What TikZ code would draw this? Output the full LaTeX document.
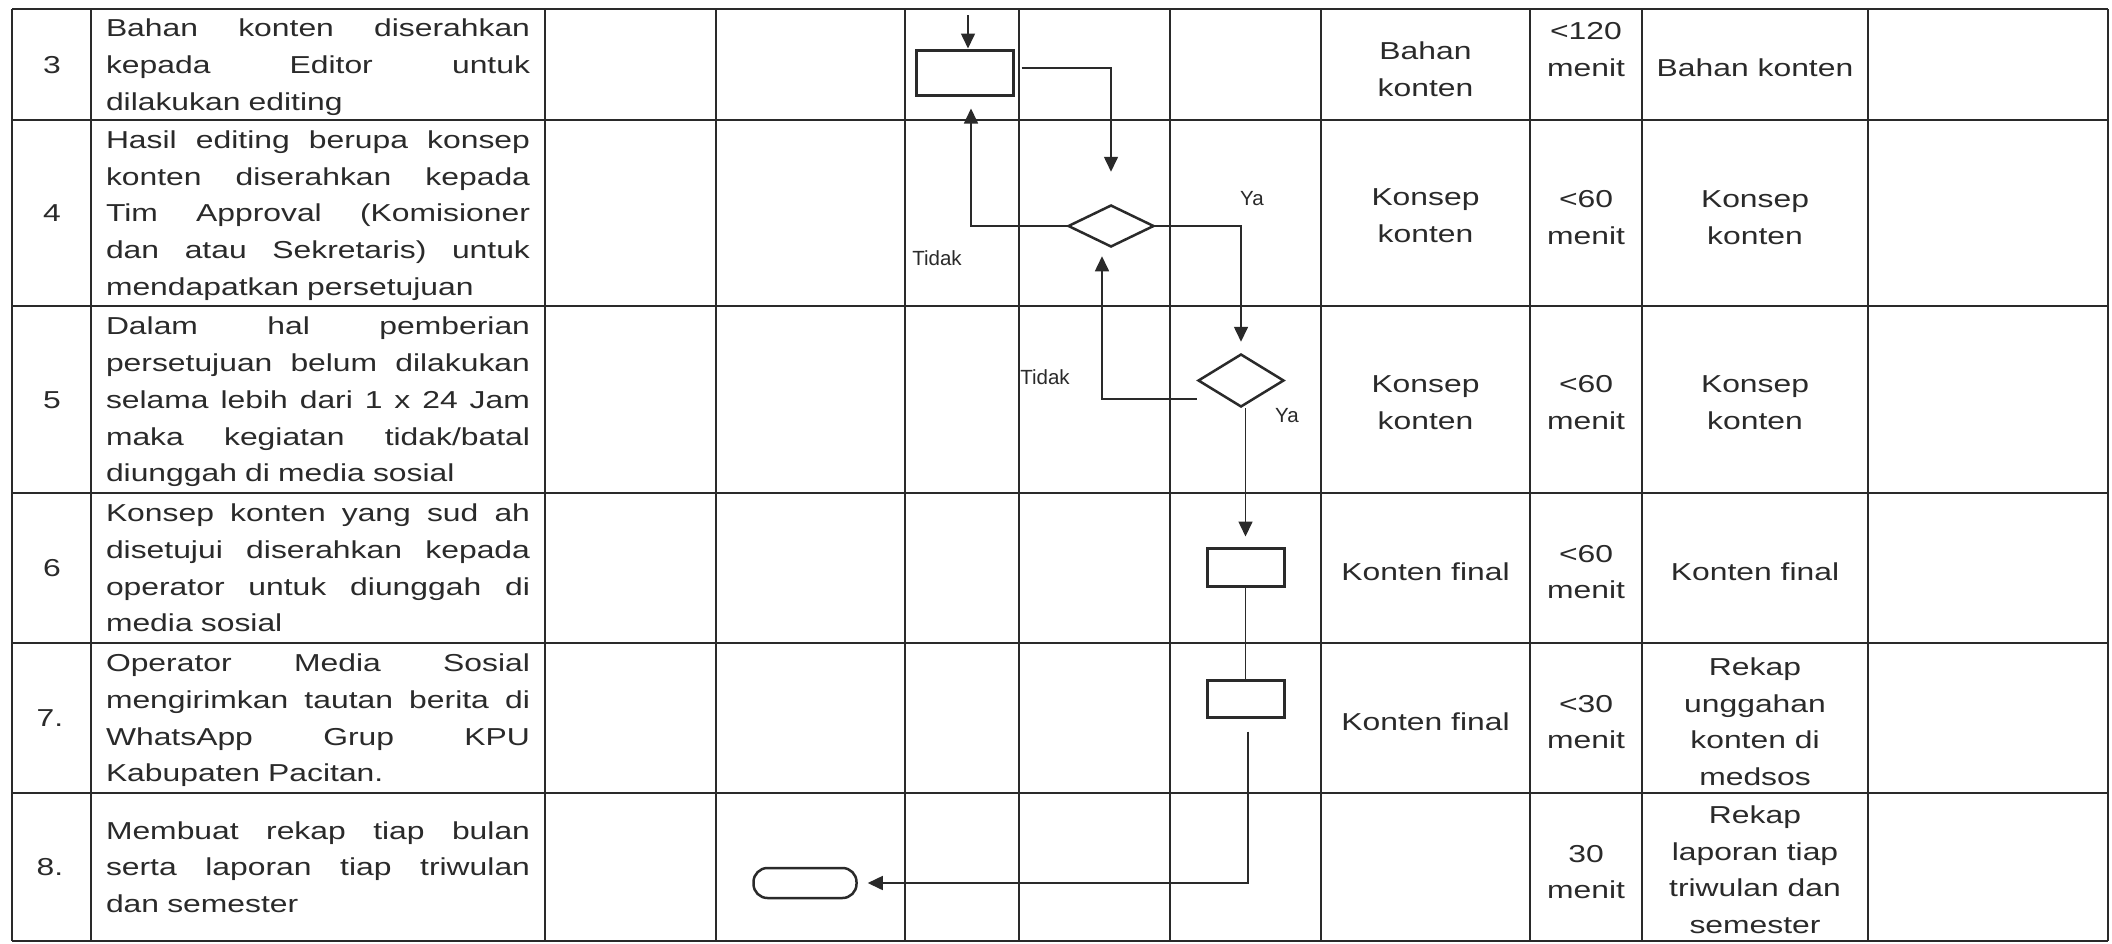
\documentclass[tikz,border=0pt]{standalone}
\usepackage{fontspec}
\setmainfont{Liberation Sans}
\newfontfamily\mainf{Liberation Sans}[FakeStretch=1.3]
\newfontfamily\labf{Liberation Sans}
\usetikzlibrary{arrows.meta,shapes.geometric,calc}
\definecolor{ink}{HTML}{2A2A2A}
\newlength\descw
\setlength\descw{424pt}
\newcommand\jl[1]{\makebox[\descw][s]{\spaceskip=\fontdimen2\font plus 1fil\relax#1}}
\begin{document}
\begin{tikzpicture}[x=1pt,y=-1pt,
  tbl/.style={draw=ink,line width=2pt},
  cell/.style={font=\mainf\fontsize{24.5}{36.7}\selectfont,text=ink,align=center,inner sep=0pt},
  desc/.style={font=\mainf\fontsize{24.5}{36.7}\selectfont,text=ink,text width=424pt,align=left,inner sep=0pt},
  lab/.style={font=\labf\fontsize{20.5}{24}\selectfont,text=ink,inner sep=0pt},
  proc/.style={draw=ink,line width=3pt,rectangle,inner sep=0pt},
  dec/.style={draw=ink,line width=2.5pt,diamond,inner sep=0pt},
  termbox/.style={draw=ink,line width=2.5pt,rectangle,rounded corners=14pt,inner sep=0pt},
  flow/.style={draw=ink,line width=1.6pt},
  arr/.style={flow,-{Triangle[length=15pt,width=14pt]}}]
\useasboundingbox[fill=white] (0,0) rectangle (2112,943);
% table grid
\foreach \x in {12,91,545,716,905,1019,1170,1321,1530,1642,1868,2108}
  \draw[tbl] (\x,9) -- (\x,941);
\foreach \y in {9,120,306,493,643,793,941}
  \draw[tbl] (12,\y) -- (2108,\y);
% numbers
\node[cell] (n3) at (52,66) {\strut 3};
\node[cell] (n4) at (52,214.5) {\strut 4};
\node[cell] (n5) at (52,401) {\strut 5};
\node[cell] (n6) at (52,569.5) {\strut 6};
\node[cell] (n7) at (50,719.5) {\strut 7.};
\node[cell] (n8) at (50,868.5) {\strut 8.};
% descriptions
\node[desc] (t3) at (318,66) {\noindent\strut\jl{Bahan konten diserahkan}\\\jl{kepada Editor untuk}\\dilakukan editing\strut};
\node[desc] (t4) at (318,214.5) {\noindent\strut\jl{Hasil editing berupa konsep}\\\jl{konten diserahkan kepada}\\\jl{Tim Approval (Komisioner}\\\jl{dan atau Sekretaris) untuk}\\mendapatkan persetujuan\strut};
\node[desc] (t5) at (318,401) {\noindent\strut\jl{Dalam hal pemberian}\\\jl{persetujuan belum dilakukan}\\\jl{selama lebih dari 1 x 24 Jam}\\\jl{maka kegiatan tidak/batal}\\diunggah di media sosial\strut};
\node[desc] (t6) at (318,569.5) {\noindent\strut\jl{Konsep konten yang sud ah}\\\jl{disetujui diserahkan kepada}\\\jl{operator untuk diunggah di}\\media sosial\strut};
\node[desc] (t7) at (318,719.5) {\noindent\strut\jl{Operator Media Sosial}\\\jl{mengirimkan tautan berita di}\\\jl{WhatsApp Grup KPU}\\Kabupaten Pacitan.\strut};
\node[desc] (t8) at (318,868.5) {\noindent\strut\jl{Membuat rekap tiap bulan}\\\jl{serta laporan tiap triwulan}\\dan semester\strut};
% kelengkapan
\node[cell] (k3) at (1425.5,71) {\strut Bahan\\konten\strut};
\node[cell] (k4) at (1425.5,217) {\strut Konsep\\konten\strut};
\node[cell] (k5) at (1425.5,404) {\strut Konsep\\konten\strut};
\node[cell] (k6) at (1425.5,573) {\strut Konten final\strut};
\node[cell] (k7) at (1425.5,723) {\strut Konten final\strut};
% waktu
\node[cell] (w3) at (1586,51) {\strut <120\\menit\strut};
\node[cell] (w4) at (1586,219) {\strut <60\\menit\strut};
\node[cell] (w5) at (1586,404) {\strut <60\\menit\strut};
\node[cell] (w6) at (1586,573) {\strut <60\\menit\strut};
\node[cell] (w7) at (1586,723) {\strut <30\\menit\strut};
\node[cell] (w8) at (1586,873) {\strut 30\\menit\strut};
% output
\node[cell] (o3) at (1755,69) {\strut Bahan konten\strut};
\node[cell] (o4) at (1755,219) {\strut Konsep\\konten\strut};
\node[cell] (o5) at (1755,404) {\strut Konsep\\konten\strut};
\node[cell] (o6) at (1755,573) {\strut Konten final\strut};
\node[cell] (o7) at (1755,723) {\strut Rekap\\unggahan\\konten di\\medsos\strut};
\node[cell] (o8) at (1755,871) {\strut Rekap\\laporan tiap\\triwulan dan\\semester\strut};
% flow shapes
\node[proc,minimum width=97pt,minimum height=45pt] (r3) at (964.5,72.5) {};
\node[dec,minimum width=86pt,minimum height=42pt] (d1) at (1111,226) {};
\node[dec,minimum width=86pt,minimum height=53pt] (d2) at (1241,380.5) {};
\node[proc,minimum width=77pt,minimum height=38pt] (r6) at (1245.5,567) {};
\node[proc,minimum width=77pt,minimum height=37pt] (r7) at (1245.5,698.5) {};
\node[termbox,minimum width=103pt,minimum height=30pt] (tm) at (805,883) {};
% labels
\node[lab] (tidak1) at (937,258) {Tidak};
\node[lab] (ya1) at (1252,199) {Ya};
\node[lab] (tidak2) at (1045,377) {Tidak};
\node[lab] (ya2) at (1287,416) {Ya};
% connectors
\coordinate (in3) at (968,15);
\draw[arr] (in3) -- (in3 |- r3.north);
\draw[arr] ([xshift=7pt,yshift=4.5pt]r3.east) -| ([yshift=32pt]d1.north);
\draw[arr] (d1.west) -| ([xshift=6.5pt,yshift=-12pt]r3.south);
\draw[arr] (d1.east) -| ([yshift=11pt]d2.north);
\draw[arr] ([yshift=-18.5pt]d2.west) -| ([xshift=-9pt,yshift=-8pt]d1.south);
\draw[arr] (r6.north |- d2.south) -- ([yshift=10pt]r6.north);
\draw[flow] (r6.south) -- (r7.north);
\draw[arr] ([xshift=2.5pt,yshift=-13pt]r7.south) |- ([xshift=10pt]tm.east);
\end{tikzpicture}
\end{document}
